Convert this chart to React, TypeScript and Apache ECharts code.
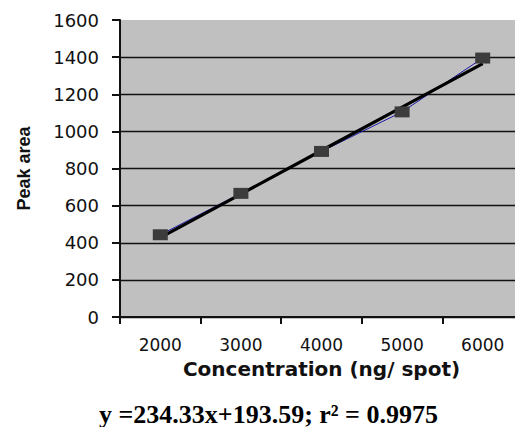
import React, { useEffect, useRef } from "react";
import * as echarts from "echarts";

const categories = ["2000", "3000", "4000", "5000", "6000"];
const peakArea = [443, 666, 892, 1105, 1395];
const trendValues = [428, 662, 897, 1131, 1365];
const yTickColors = ["#111", "#111", "#111", "#111", "#111", "#111", "#111", "#111", "rgba(0,0,0,0)"];
const xTitle = "Concentration (ng/ spot)";
const yTitle = "Peak area";
const equation = "y =234.33x+193.59; r² = 0.9975";

export default function App() {
  const ref = useRef<HTMLDivElement>(null);
  useEffect(() => {
    if (!ref.current) return;
    const chart = echarts.init(ref.current, undefined, { renderer: "svg" });
    chart.setOption({
      animation: false,
      backgroundColor: "#ffffff",
      grid: {
        left: 120,
        top: 20,
        width: 405,
        height: 297,
        show: true,
        backgroundColor: "#c0c0c0",
        borderWidth: 0,
      },
      xAxis: {
        type: "category",
        data: categories,
        boundaryGap: true,
        name: xTitle,
        nameLocation: "middle",
        nameGap: 42,
        nameTextStyle: {
          fontFamily: "DejaVu Sans",
          fontWeight: "bold",
          fontSize: 20,
          color: "#111",
        },
        axisLine: { show: true, lineStyle: { color: "#111", width: 2 } },
        axisTick: { show: true, inside: false, length: 7, lineStyle: { color: "#111", width: 2 } },
        axisLabel: {
          fontFamily: "DejaVu Sans",
          fontSize: 17,
          color: "#111",
          margin: 19,
        },
        splitLine: { show: false },
      },
      yAxis: {
        type: "value",
        min: 0,
        max: 1600,
        interval: 200,
        name: yTitle,
        nameLocation: "middle",
        nameGap: 87,
        nameTextStyle: {
          fontFamily: "Liberation Sans",
          fontWeight: "bold",
          fontSize: 18,
          color: "#111",
        },
        axisLine: { show: true, lineStyle: { color: "#111", width: 2 } },
        axisTick: { show: true, inside: false, length: 8, lineStyle: { color: "#111", width: 2 } },
        axisLabel: {
          fontFamily: "DejaVu Sans",
          fontSize: 18,
          color: "#111",
          margin: 21,
          formatter: (v: number) => String(v),
        },
        splitLine: { show: true, lineStyle: { color: yTickColors, width: 1.3 } },
      },
      series: [
        {
          type: "line",
          data: peakArea,
          symbol: "none",
          lineStyle: { color: "#1a1aa8", width: 1 },
          z: 1,
        },
        {
          type: "line",
          data: trendValues,
          symbol: "none",
          lineStyle: { color: "#000", width: 3.2 },
          z: 2,
        },
        {
          type: "scatter",
          data: peakArea,
          symbol: "rect",
          symbolSize: [15, 11],
          itemStyle: { color: "#3c3c3c", opacity: 1 },
          z: 3,
        },
      ],
      graphic: [
        {
          type: "text",
          left: 99,
          top: 401,
          style: {
            text: equation,
            fontFamily: "Liberation Serif",
            fontWeight: "bold",
            fontSize: 26,
            lineHeight: 26,
            fill: "#000",
          },
        },
      ],
    });
    return () => chart.dispose();
  }, []);
  return <div ref={ref} style={{ width: 523, height: 435, margin: -8 }} />;
}
